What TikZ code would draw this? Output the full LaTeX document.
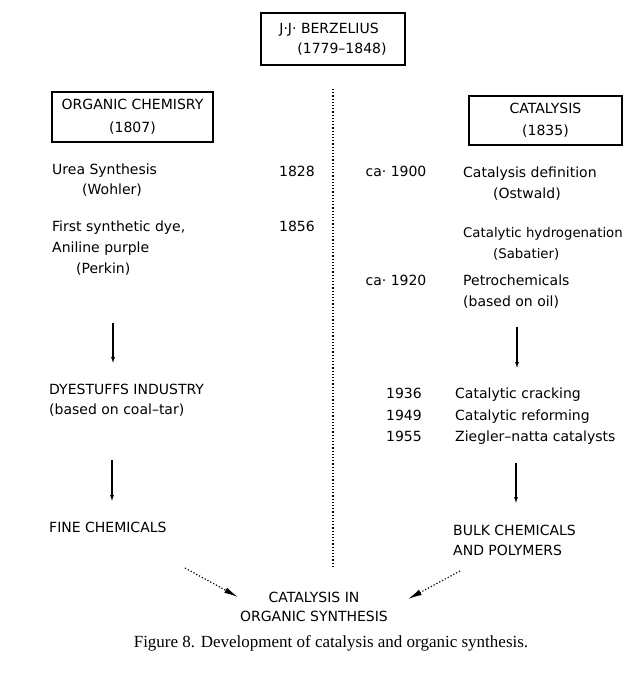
\documentclass[tikz,border=0pt]{standalone}
\usepackage{fontspec}
\setmainfont{DejaVu Sans}
\newfontfamily\capfont{Liberation Serif}
\usetikzlibrary{arrows.meta}

\begin{document}
\begin{tikzpicture}[
    x=1pt,y=-1pt,
    font=\fontsize{14}{21}\selectfont,
    box/.style={draw,line width=1.3pt,inner sep=0pt},
    txt/.style={anchor=north west,align=left,inner sep=0pt},
    yr/.style={inner sep=0pt},
    arr/.style={-{Latex[length=7pt,width=4pt]},line width=1.4pt},
    divider/.style={dotted,line width=1.2pt},
    dotarr/.style={dotted,line width=1.2pt,-{Latex[length=14pt,width=6pt]}}
  ]
  \useasboundingbox (0,0) rectangle (629,683);

  % head and the two branches
  \node[box,align=left,minimum width=144pt,minimum height=52pt] (berz) at (333,39)
    {J·J· BERZELIUS\\[-1pt]\hspace*{18pt}(1779–1848)};
  \node[box,align=center,minimum width=161pt,minimum height=50pt] (orgchem)
    at (132.5,117) {ORGANIC CHEMISRY\\[2pt](1807)};
  \node[box,align=center,minimum width=153pt,minimum height=49pt] (catal)
    at (545.5,120.5) {CATALYSIS\\[1pt](1835)};

  % divider
  \coordinate (vtop) at (333,89);
  \coordinate (vbot) at (333,568);
  \draw[divider] (vtop) -- (vbot);

  % organic chemistry side
  \node[txt] (urea) at (52,164) {Urea Synthesis\\[-1pt]\hspace*{30pt}(Wohler)};
  \node[yr] (y1828) at (297,171) {1828};
  \node[txt] (perkin) at (52,221)
    {First synthetic dye,\\Aniline purple\\\hspace*{24pt}(Perkin)};
  \node[yr] (y1856) at (297,226) {1856};
  \node[txt] (dyestuff) at (49,384) {DYESTUFFS INDUSTRY\\[-1pt](based on coal–tar)};
  \node[txt] (fine) at (49,522) {FINE CHEMICALS};

  % catalysis side
  \node[yr] (y1900) at (396,171) {ca· 1900};
  \node[txt] (ostwald) at (463,167)
    {Catalysis definition\\\hspace*{30pt}(Ostwald)};
  \node[txt,font=\fontsize{13.3}{21}\selectfont] (sabatier) at (463,227)
    {Catalytic hydrogenation\\\hspace*{30pt}(Sabatier)};
  \node[yr] (y1920) at (396,280) {ca· 1920};
  \node[txt] (petro) at (463,275) {Petrochemicals\\(based on oil)};
  \node[anchor=north east,align=right,inner sep=0pt,
        font=\fontsize{14}{21.5}\selectfont] (yrs) at (422,388)
    {1936\\1949\\1955};
  \node[txt,font=\fontsize{14}{21.5}\selectfont] (cracking) at (455,388)
    {Catalytic cracking\\Catalytic reforming\\Ziegler–natta catalysts};
  \node[txt] (bulk) at (453,525) {BULK CHEMICALS\\[-1pt]AND POLYMERS};

  % meeting point
  \node[align=center,inner sep=0pt] (cios) at (314,606.5)
    {CATALYSIS IN\\[-2pt]ORGANIC SYNTHESIS};
  \node[inner sep=0pt,font=\capfont\fontsize{17}{20}\selectfont] (caption)
    at (331,643) {Figure 8. Development of catalysis and organic synthesis.};

  % arrows
  \coordinate (la1) at (113,323); \coordinate (lb1) at (113,364);
  \coordinate (la2) at (112,460); \coordinate (lb2) at (112,502);
  \coordinate (ra1) at (517,327); \coordinate (rb1) at (517,369);
  \coordinate (ra2) at (516,463); \coordinate (rb2) at (516,504);
  \draw[arr] (la1) -- (lb1);
  \draw[arr] (la2) -- (lb2);
  \draw[arr] (ra1) -- (rb1);
  \draw[arr] (ra2) -- (rb2);

  \coordinate (dl) at (185,568); \coordinate (dlt) at (238,597);
  \coordinate (dr) at (460,571); \coordinate (drt) at (408,599);
  \draw[dotarr] (dl) -- (dlt);
  \draw[dotarr] (dr) -- (drt);

\end{tikzpicture}
\end{document}
